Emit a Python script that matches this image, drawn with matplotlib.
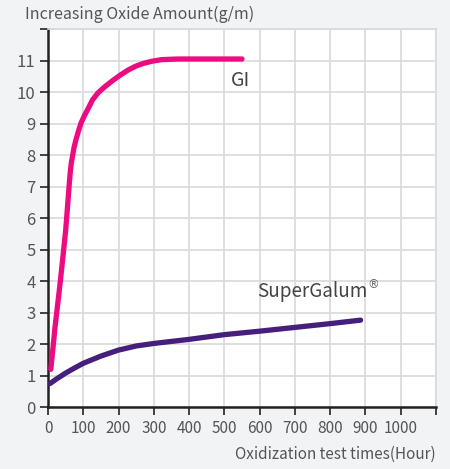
import numpy as np
from matplotlib import pyplot as plt

# GI curve (hours, g/m)
gi_x = [8, 20, 35, 50, 57.6, 60, 63, 66, 70, 74, 79, 86, 93, 103, 114, 126, 142, 161,
        185, 205, 227, 248, 270, 295, 322, 368, 450, 550]
gi_y = [1.2, 2.55, 4.0, 5.6, 6.69, 7.05, 7.45, 7.75, 8.0, 8.25, 8.48, 8.75, 9.0, 9.25,
        9.48, 9.75, 9.98, 10.17, 10.38, 10.54, 10.7, 10.82, 10.91, 10.98, 11.03, 11.05,
        11.05, 11.05]

# SuperGalum curve
sg_x = [6, 25, 50, 75, 100, 150, 200, 250, 300, 400, 500, 600, 700, 800, 886]
sg_y = [0.75, 0.9, 1.08, 1.24, 1.39, 1.62, 1.81, 1.94, 2.02, 2.15, 2.30, 2.41, 2.53, 2.65, 2.76]

x_ticks = list(range(0, 1200, 100))
x_labels = [str(v) for v in range(0, 1100, 100)] + [""]
y_ticks = list(range(0, 13))
y_labels = [str(v) for v in range(0, 12)] + [""]

plt.rcParams['font.family'] = ['Noto Sans CJK JP', 'DejaVu Sans']

fig = plt.figure(figsize=(4.5, 4.69), dpi=100, facecolor='#f2f3f5')
ax = fig.add_axes([0.1067, 0.132, 0.8623, 0.806])
ax.set_facecolor('white')

ax.plot(gi_x, gi_y, color='#ec0b80', lw=3.8, solid_capstyle='round', solid_joinstyle='round', zorder=3)
ax.plot(sg_x, sg_y, color='#461f7c', lw=3.8, solid_capstyle='round', solid_joinstyle='round', zorder=3)

ax.set_xlim(0, 1100)
ax.set_ylim(0, 12)
ax.set_xticks(x_ticks)
ax.set_xticklabels(x_labels, fontsize=11, color='#555555')
ax.set_yticks(y_ticks)
ax.set_yticklabels(y_labels, fontsize=12, color='#555555')
ax.grid(True, color='#d9d9d9', lw=1.2)
ax.set_axisbelow(True)

for s in ['top', 'right']:
    ax.spines[s].set_color('#d9d9d9')
    ax.spines[s].set_linewidth(1.2)
for s in ['left', 'bottom']:
    ax.spines[s].set_color('#222222')
    ax.spines[s].set_linewidth(1.8)
ax.tick_params(axis='both', direction='out', length=6, width=1.3, color='#333333', pad=3)

ax.text(518, 10.2, "GI", fontsize=14, color='#444444')
ax.text(594, 3.49, "SuperGalum", fontsize=13.6, color='#444444')
ax.text(906, 3.88, "®", fontsize=8.5, color='#666666', family='DejaVu Sans',
        va='center', ha='left')

fig.text(25 / 450, 1 - 14 / 469, "Increasing Oxide Amount(g/m)", fontsize=11.5,
         color='#555555', va='center', ha='left')
fig.text(436 / 450, 1 - 454 / 469, "Oxidization test times(Hour)", fontsize=11,
         color='#555555', va='center', ha='right')

fig.savefig('out.png', dpi=100, facecolor=fig.get_facecolor())
